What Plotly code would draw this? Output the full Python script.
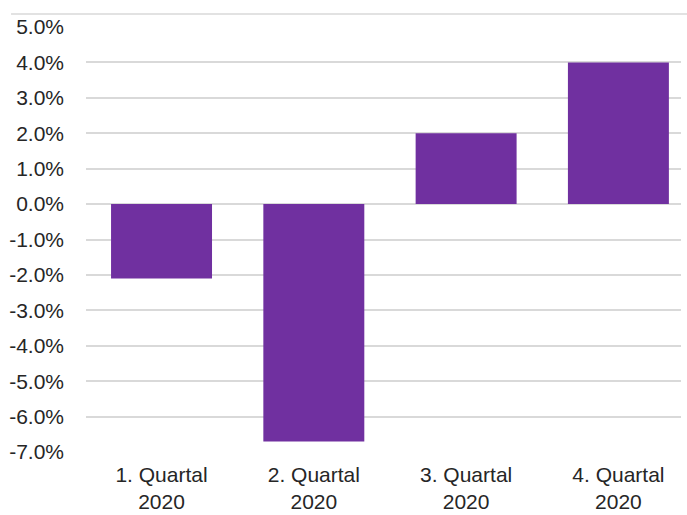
import plotly.graph_objects as go

categories = ["1. Quartal<br>2020", "2. Quartal<br>2020", "3. Quartal<br>2020", "4. Quartal<br>2020"]
values = [-2.1, -6.7, 2.0, 4.0]
tick_vals = [5, 4, 3, 2, 1, 0, -1, -2, -3, -4, -5, -6, -7]
tick_text = ["5.0%", "4.0%", "3.0%", "2.0%", "1.0%", "0.0%", "-1.0%", "-2.0%",
             "-3.0%", "-4.0%", "-5.0%", "-6.0%", "-7.0%"]

fig = go.Figure(go.Bar(x=categories, y=values, marker=dict(color="#7030A0", line=dict(width=0)),
                       width=0.663))

fig.update_layout(
    width=687, height=515,
    margin=dict(l=86, r=6, t=27, b=63),
    plot_bgcolor="white", paper_bgcolor="white",
    font=dict(family="Liberation Sans, Arial, sans-serif", size=21, color="#262626"),
    showlegend=False,
    xaxis=dict(showgrid=False, zeroline=False, showline=False, ticks="", tickfont=dict(size=21),
               range=[-0.496, 3.411], ticklabelstandoff=8, automargin=False),
    yaxis=dict(range=[-7, 5], tickvals=tick_vals, ticktext=tick_text, showgrid=True,
               gridcolor="#d9d9d9", gridwidth=1.5, zeroline=False, showline=False,
               ticklabelstandoff=21, tickfont=dict(size=21), automargin=False),
    shapes=[dict(type="line", xref="paper", yref="paper", x0=-0.126, x1=1.0101,
                 y0=1.0306, y1=1.0306, line=dict(color="#d9d9d9", width=1.5))],
)

fig.write_html("out.html")
